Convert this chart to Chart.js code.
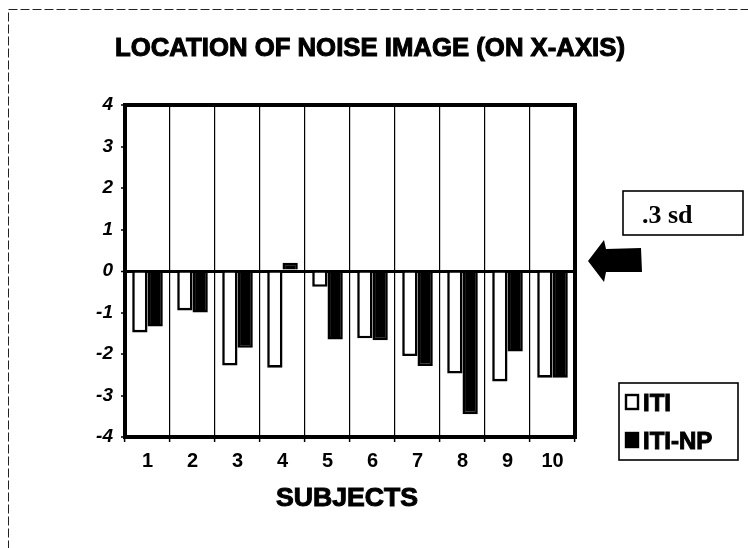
<!DOCTYPE html>
<html>
<head>
<meta charset="utf-8">
<title>Location of noise image</title>
<script src="https://cdn.jsdelivr.net/npm/chart.js@4.4.1/dist/chart.umd.min.js"></script>
<style>
  html, body { margin: 0; padding: 0; background: #fff; }
  #wrap { width: 748px; height: 548px; }
</style>
</head>
<body>
<div id="wrap"><canvas id="c" width="748" height="548"></canvas></div>
<script>
// Subjects and per-subject offsets of the noise image on the x-axis (sd units)
const subjects = ['1', '2', '3', '4', '5', '6', '7', '8', '9', '10'];
const itiValues = [-1.48, -0.95, -2.28, -2.33, -0.38, -1.62, -2.05, -2.47, -2.66, -2.57];
const itiNpValues = [-1.34, -1.0, -1.85, 0.2, -1.65, -1.67, -2.29, -3.45, -1.94, -2.57];
const yTicks = [4, 3, 2, 1, 0, -1, -2, -3, -4];
const seriesNames = ['ITI', 'ITI-NP'];

const titleText = 'LOCATION OF NOISE IMAGE (ON X-AXIS)';
const xTitleText = 'SUBJECTS';
const noteText = '.3 sd';

const SANS = '"Liberation Sans", Arial, sans-serif';
const SERIF = '"Liberation Serif", "Times New Roman", serif';

// Text, frame, legend and the pointer arrow drawn around the plot
const decorations = {
  id: 'decorations',
  afterDraw(chart) {
    const ctx = chart.ctx;
    const a = chart.chartArea;
    ctx.save();

    // dashed outer frame
    ctx.strokeStyle = '#222';
    ctx.lineWidth = 1;
    ctx.setLineDash([9, 3]);
    ctx.strokeRect(8.5, 9.5, 760, 560);
    ctx.setLineDash([]);

    // heavy box around the plot
    ctx.strokeStyle = '#000';
    ctx.lineWidth = 4;
    ctx.strokeRect(a.left, a.top, a.right - a.left, a.bottom - a.top);

    const heavyText = (txt, x, y, size, align, width) => {
      ctx.font = 'bold ' + size + 'px ' + SANS;
      ctx.textAlign = 'left';
      ctx.textBaseline = 'alphabetic';
      const w = ctx.measureText(txt).width;
      const sx = width ? width / w : 1;
      let x0 = x;
      if (align === 'center') x0 = x - (w * sx) / 2;
      ctx.save();
      ctx.translate(x0, y);
      ctx.scale(sx, 1);
      ctx.fillStyle = '#000';
      ctx.strokeStyle = '#000';
      ctx.lineWidth = 1;
      ctx.fillText(txt, 0, 0);
      ctx.strokeText(txt, 0, 0);
      ctx.restore();
    };

    // chart title and axis title
    heavyText(titleText, 370, 56, 25, 'center', 510);
    heavyText(xTitleText, 347, 506, 26, 'center', 142);

    // ".3 sd" note box
    ctx.lineWidth = 1.6;
    ctx.strokeStyle = '#000';
    ctx.strokeRect(623, 191, 120, 44);
    ctx.fillStyle = '#000';
    ctx.font = 'bold 26px ' + SERIF;
    ctx.textAlign = 'left';
    ctx.textBaseline = 'alphabetic';
    ctx.fillText(noteText, 642, 223);

    // pointer arrow at the zero line
    ctx.beginPath();
    ctx.moveTo(588, 261);
    ctx.lineTo(604, 240);
    ctx.lineTo(606, 249);
    ctx.lineTo(641, 248);
    ctx.lineTo(642, 272);
    ctx.lineTo(606, 272);
    ctx.lineTo(604, 282);
    ctx.closePath();
    ctx.fill();

    // legend
    ctx.lineWidth = 1.6;
    ctx.strokeRect(619, 383, 119, 77);
    const ds = chart.data.datasets;
    const rows = [402, 440];
    ds.forEach((d, i) => {
      const cy = rows[i];
      ctx.fillStyle = d.backgroundColor;
      ctx.fillRect(626, cy - 7, 12, 14);
      ctx.lineWidth = 2.4;
      ctx.strokeStyle = '#000';
      ctx.strokeRect(626, cy - 7, 12, 14);
      heavyText(d.label, 643, cy + 9, 24);
    });

    ctx.restore();
  }
};

new Chart(document.getElementById('c'), {
  type: 'bar',
  data: {
    labels: subjects,
    datasets: [
      {
        label: seriesNames[0],
        data: itiValues,
        backgroundColor: '#ffffff',
        borderColor: '#000000',
        borderWidth: 2.6,
        borderSkipped: 'start'
      },
      {
        label: seriesNames[1],
        data: itiNpValues,
        backgroundColor: '#000000',
        borderColor: '#000000',
        borderWidth: 2.6,
        borderSkipped: 'start'
      }
    ]
  },
  options: {
    responsive: false,
    animation: false,
    devicePixelRatio: 1,
    layout: { padding: { top: 105, right: 173, bottom: 0, left: 0 } },
    datasets: { bar: { categoryPercentage: 0.68, barPercentage: 1.0 } },
    plugins: {
      legend: { display: false },
      title: { display: false },
      tooltip: { enabled: false }
    },
    scales: {
      x: {
        afterFit(s) { s.height = 111; },
        grid: {
          offset: true,
          color: '#000',
          lineWidth: 1.2,
          drawTicks: true,
          tickLength: 5,
          tickColor: '#000',
          tickWidth: 1.5
        },
        border: { display: false },
        ticks: {
          color: '#000',
          padding: 7,
          font: { family: SANS, size: 20, weight: 'bold' }
        }
      },
      y: {
        min: -4,
        max: 4,
        afterFit(s) { s.width = 125; },
        afterBuildTicks(s) { s.ticks = yTicks.map(v => ({ value: v })); },
        grid: {
          color: c => (c.tick && c.tick.value === 0 ? '#000' : 'rgba(0,0,0,0)'),
          lineWidth: c => (c.tick && c.tick.value === 0 ? 3 : 0),
          drawTicks: true,
          tickLength: 4,
          tickColor: '#000',
          tickWidth: 1.5
        },
        border: { display: false },
        ticks: {
          color: '#000',
          padding: 8,
          font: { family: SANS, size: 19, weight: 'bold', style: 'italic' },
          callback: v => String(v)
        }
      }
    }
  },
  plugins: [decorations]
});
</script>
</body>
</html>
